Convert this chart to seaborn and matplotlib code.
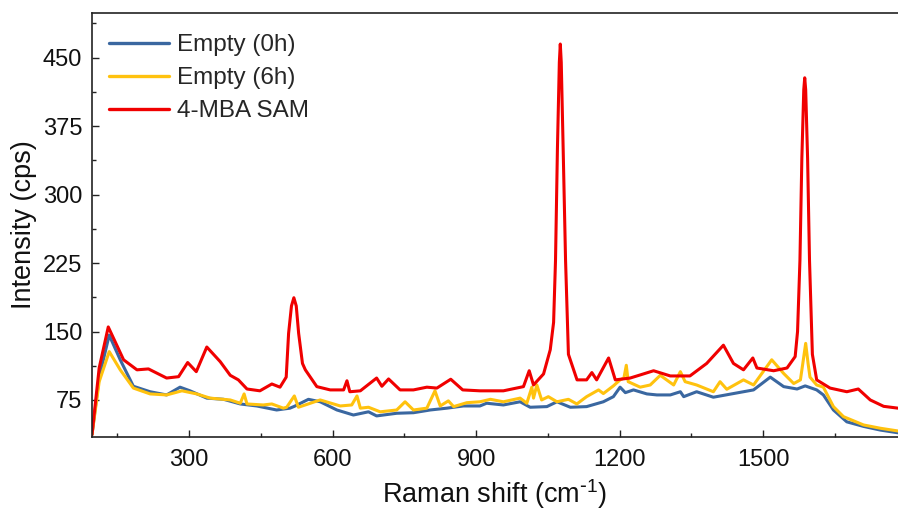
import numpy as np
import pandas as pd
import matplotlib
matplotlib.use("Agg")
import matplotlib.pyplot as plt
import seaborn as sns

# ---- data ----
empty0_x = [97, 112, 133, 156, 183.5, 218.5, 253, 281, 302, 337, 372, 407, 441.5, 483, 511, 520,
            549.5, 574, 609, 643.5, 675, 692, 734, 769, 804, 839, 873.5, 908, 922, 957, 992,
            1013, 1048, 1069, 1097, 1131, 1166, 1187, 1201, 1212, 1229, 1257, 1278, 1306, 1327,
            1334, 1361, 1396, 1438, 1480, 1515, 1543, 1571, 1588, 1612, 1626, 1647, 1675, 1710,
            1745, 1782]
empty0_y = [37, 100, 146, 119, 90, 84, 80.5, 89, 85, 77, 75.7, 70.6, 68.4, 64, 66, 68,
            75.7, 73, 64, 58.5, 62, 57.5, 60.4, 61, 64, 66, 68.4, 68.4, 71.4, 69.5, 73,
            67, 67.7, 73, 67, 67.7, 73, 78.6, 89, 83, 86, 81.6, 80.5, 80.5, 84,
            78.6, 84, 78, 82, 86, 100, 89.6, 87, 90.4, 86, 80.5, 64, 51, 46,
            42, 39]

empty6_x = [97, 112, 133, 156, 183.5, 218.5, 253, 285, 316, 344, 386, 407, 415, 421, 455, 473,
            497, 504, 520, 528.5, 574, 616, 640, 651, 658, 675, 699.5, 734, 751.5, 769, 797,
            814, 825, 842, 853, 880.6, 908, 930, 957, 992, 1006, 1016.5, 1020, 1027, 1037,
            1051, 1069, 1093, 1110.6, 1131, 1156, 1166, 1187, 1201, 1209, 1214, 1218, 1243,
            1264, 1285, 1313, 1327, 1337, 1361, 1396, 1410, 1424, 1459, 1480, 1518, 1543,
            1564, 1578, 1583, 1589, 1594, 1598, 1612, 1626, 1647, 1668, 1710, 1745, 1782]
empty6_y = [37, 95, 128, 108, 88, 81.6, 80.5, 85, 81.6, 77, 75, 71.4, 81.6, 70.6, 69.5, 70.6,
            66, 67, 79.4, 67, 75, 68.4, 69.5, 79.4, 66, 67, 62, 64, 73, 64, 66,
            85, 68.4, 74, 67.7, 72, 73, 75.7, 73, 77, 71.4, 89, 77, 91.4, 75,
            78.6, 73, 75.7, 70.6, 78.6, 86, 82, 90.4, 97, 99, 113, 95, 89,
            91.4, 102, 91.4, 106, 95, 91.4, 84, 95, 86.7, 97, 91.4, 119, 104,
            93, 97, 115, 137, 115, 100, 91.4, 89, 67.7, 56.7, 47.6, 44, 41]

mba_x = [97, 112, 131, 163, 191, 215, 253, 278, 297, 315, 337, 365, 386, 403, 421, 448, 473,
         490, 503, 508, 514, 519, 524, 529, 537, 543, 567, 595, 623, 630, 636, 658, 692, 703,
         717, 741, 769, 797, 818, 847, 872, 908, 957, 999, 1011, 1020, 1041, 1055, 1062,
         1066, 1070, 1074, 1076, 1078, 1082, 1087, 1093, 1111, 1131, 1142, 1152, 1177, 1191,
         1222, 1243, 1271, 1306, 1347, 1382, 1417, 1438, 1459, 1478.5, 1487, 1522, 1550,
         1567, 1572, 1577, 1581, 1585, 1587, 1589, 1593, 1597, 1603, 1612, 1640, 1675, 1699,
         1724, 1752, 1782]
mba_y = [37, 110, 155, 119, 108, 109, 99, 100.5, 116, 106, 133, 117, 102, 97, 87, 85, 92.5,
         89, 100, 148, 178, 187, 178, 148, 115, 108, 89.6, 86, 86, 96, 84, 85, 99, 90,
         98, 86, 86, 89, 88, 97.7, 86, 85, 85, 89.6, 107, 91.4, 103.5, 130, 160,
         228, 350, 445, 465, 445, 350, 228, 125, 97, 97, 105, 97, 121, 97,
         99, 102.4, 107, 101.3, 101.3, 115, 135, 115, 108, 121, 110, 107, 110,
         122.5, 150, 228, 340, 415, 428, 415, 340, 228, 125, 97, 88, 84, 87,
         75, 68, 66]

labels = ["Empty (0h)", "Empty (6h)", "4-MBA SAM"]
colors = ["#3A67A0", "#FFC20E", "#F00000"]

df = pd.concat([
    pd.DataFrame({"shift": empty0_x, "intensity": empty0_y, "sample": labels[0]}),
    pd.DataFrame({"shift": empty6_x, "intensity": empty6_y, "sample": labels[1]}),
    pd.DataFrame({"shift": mba_x, "intensity": mba_y, "sample": labels[2]}),
], ignore_index=True)

sns.set_style("ticks")
plt.rcParams["font.family"] = ["Liberation Sans", "DejaVu Sans"]
plt.rcParams["mathtext.default"] = "regular"

fig = plt.figure(figsize=(8.98, 5.16), dpi=100)
ax = fig.add_axes([92 / 898, (516 - 437) / 516, 1 - 92 / 898, (437 - 13) / 516])

sns.lineplot(data=df, x="shift", y="intensity", hue="sample", hue_order=labels,
             palette=colors, estimator=None, sort=False, linewidth=2.2, ax=ax)

ax.set_xlim(97, 1782)
ax.set_ylim(34.4, 499)
ax.set_xticks([300, 600, 900, 1200, 1500])
ax.set_xticks([150, 450, 750, 1050, 1350, 1650], minor=True)
ax.set_yticks([75, 150, 225, 300, 375, 450])
ax.set_yticks([112.5, 187.5, 262.5, 337.5, 412.5, 487.5], minor=True)
ax.tick_params(axis="both", which="major", direction="in", length=5, width=1,
               labelsize=17, color="#222222", labelcolor="#111111")
ax.tick_params(axis="y", which="major", pad=7)
ax.tick_params(axis="x", which="major", pad=9)
ax.tick_params(axis="both", which="minor", direction="in", length=3, width=1,
               color="#222222")

for side in ["left", "bottom", "top"]:
    ax.spines[side].set_linewidth(1.2)
    ax.spines[side].set_color("#222222")
ax.spines["right"].set_visible(False)

ax.set_xlabel(r"Raman shift (cm$^{\text{-}1}$)", fontsize=19.5, labelpad=4, color="#111111")
ax.set_ylabel("Intensity (cps)", fontsize=19.5, labelpad=4, color="#111111")

leg = ax.legend(loc="upper left", frameon=False, fontsize=17.5, handlelength=2.45,
                handletextpad=0.33, labelspacing=0.45, borderaxespad=0.3,
                bbox_to_anchor=(0.0, 0.99))
for line in leg.get_lines():
    line.set_linewidth(2.4)

fig.savefig("out.png", dpi=100)
